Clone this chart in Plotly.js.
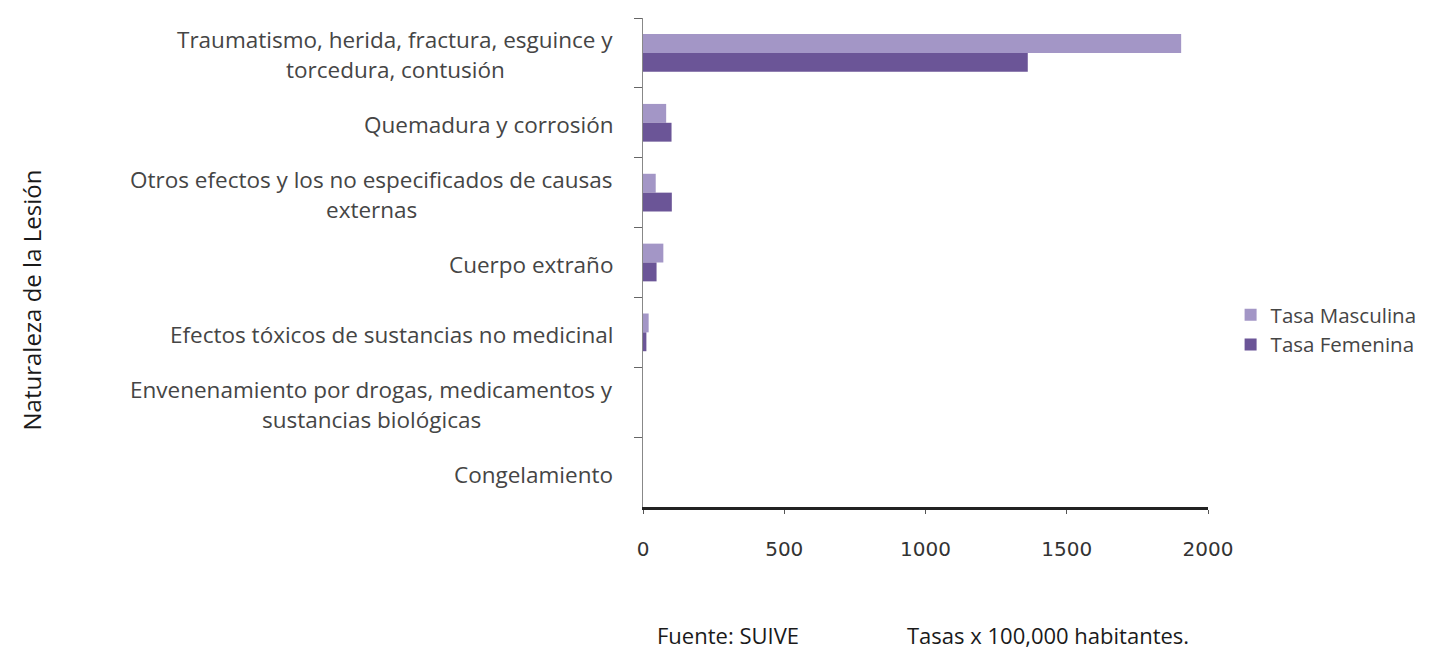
<!DOCTYPE html>
<html>
<head>
<meta charset="utf-8">
<script src="https://cdn.plot.ly/plotly-3.0.1.min.js"></script>
<style>html,body{margin:0;padding:0;background:#fff;}#chart{width:1434px;height:654px;}</style>
</head>
<body>
<div id="chart"></div>
<script>
const categories = [
  "Traumatismo, herida, fractura, esguince y<br>torcedura, contusión",
  "Quemadura y corrosión",
  "Otros efectos y los no especificados de causas<br>externas",
  "Cuerpo extraño",
  "Efectos tóxicos de sustancias no medicinal",
  "Envenenamiento por drogas, medicamentos y<br>sustancias biológicas",
  "Congelamiento"
];
const tasaMasculina = [1905, 82, 45, 72, 20, 0, 0];
const tasaFemenina  = [1362, 101, 102, 48, 12, 0, 0];
const seriesNames = ["Tasa Masculina", "Tasa Femenina"];
const xTicks = [0, 500, 1000, 1500, 2000];
const yTitle = "Naturaleza de la Lesión";
const footLeft = "Fuente: SUIVE";
const footRight = "Tasas x 100,000 habitantes.";

const FONT = "Open Sans, Liberation Sans, sans-serif";
const labelFont = {family: FONT, size: 22.5, color: "#454545"};

const traces = [
  {type: "bar", orientation: "h", name: seriesNames[0], y: categories, x: tasaMasculina,
   marker: {color: "#a396c6"}},
  {type: "bar", orientation: "h", name: seriesNames[1], y: categories, x: tasaFemenina,
   marker: {color: "#6b5597"}}
];

const annotations = [];
categories.forEach(function(cat){
  const lines = cat.split("<br>");
  const n = lines.length;
  lines.forEach(function(line, i){
    annotations.push({
      xref: "paper", yref: "y", x: 0, y: cat, xanchor: "right", yanchor: "middle",
      xshift: -28, yshift: ((n - 1) / 2 - i) * 30 - 2,
      text: line, showarrow: false, align: "center", font: labelFont,
      _line: i, _n: n
    });
  });
});

annotations.push({xref: "paper", yref: "paper", x: 0, y: 0.5, xanchor: "center", yanchor: "middle",
  xshift: -612, yshift: -38, text: yTitle, textangle: -90, showarrow: false,
  font: {family: FONT, size: 24, color: "#1a1a1a"}});
annotations.push({xref: "paper", yref: "paper", x: 0, y: 0, xanchor: "left", yanchor: "middle",
  xshift: 12, yshift: -128, text: footLeft, showarrow: false,
  font: {family: FONT, size: 22, color: "#1a1a1a"}});
annotations.push({xref: "paper", yref: "paper", x: 0, y: 0, xanchor: "left", yanchor: "middle",
  xshift: 262, yshift: -128, text: footRight, showarrow: false,
  font: {family: FONT, size: 22, color: "#1a1a1a"}});

const layout = {
  width: 1434, height: 654,
  margin: {l: 643, r: 226, t: 18, b: 147, pad: 0},
  paper_bgcolor: "#fff", plot_bgcolor: "#fff",
  barmode: "group", bargap: 0.46, bargroupgap: 0,
  showlegend: true,
  legend: {x: 1.04, y: 0.362, xanchor: "left", yanchor: "middle",
    font: {family: FONT, size: 20.5, color: "#454545"},
    itemwidth: 30, tracegroupgap: 0},
  xaxis: {range: [0, 2000], tickvals: xTicks, ticktext: xTicks.map(String),
    showgrid: false, zeroline: false, showline: true, linecolor: "#222", linewidth: 3,
    ticks: "outside", ticklen: 4, tickcolor: "#555", ticklabelstandoff: 18,
    tickfont: {family: "DejaVu Sans, sans-serif", size: 20, color: "#333"}},
  yaxis: {type: "category", autorange: "reversed", showticklabels: false,
    showgrid: false, zeroline: false, showline: true, linecolor: "#888", linewidth: 1,
    ticks: "outside", tickson: "boundaries", ticklen: 8, tickcolor: "#666"},
  annotations: annotations.map(function(a){
    const b = Object.assign({}, a); delete b._line; delete b._n; return b;
  })
};

Plotly.newPlot("chart", traces, layout, {displayModeBar: false}).then(function(gd){
  // center each line of a multi-line label under the widest line
  const nodes = gd.querySelectorAll(".annotation");
  const widths = annotations.map(function(a, i){
    const t = nodes[i] && nodes[i].querySelector(".annotation-text-g");
    return t ? t.getBBox().width : 0;
  });
  const upd = {};
  annotations.forEach(function(a, i){
    if (a._n > 1) {
      const first = i - a._line;
      let maxW = 0;
      for (let k = first; k < first + a._n; k++) maxW = Math.max(maxW, widths[k]);
      upd["annotations[" + i + "].xshift"] = -28 - (maxW - widths[i]) / 2;
    }
  });
  if (Object.keys(upd).length) Plotly.relayout(gd, upd);
});
</script>
</body>
</html>
